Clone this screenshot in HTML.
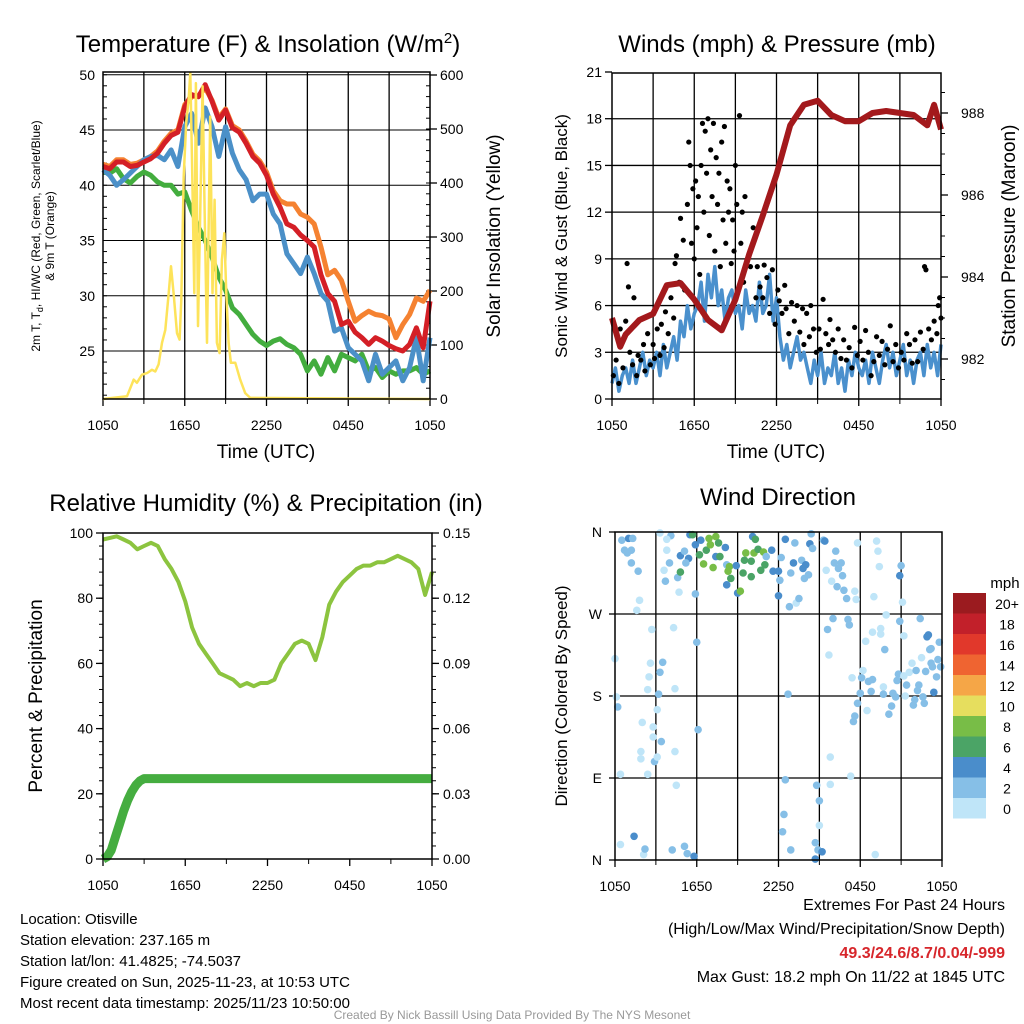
<!DOCTYPE html>
<html><head><meta charset="utf-8">
<style>
html,body{margin:0;padding:0;background:#fff;}
svg{display:block;font-family:"Liberation Sans",sans-serif;}
</style></head>
<body>
<svg id="c" width="1024" height="1024" viewBox="0 0 1024 1024" xmlns="http://www.w3.org/2000/svg">
<rect width="1024" height="1024" fill="#fff"/>
<g id="p1"></g>
<g id="p2"></g>
<g id="p3"></g>
<g id="p4"></g>
<text x="268" y="52" font-size="24" text-anchor="middle">Temperature (F) &amp; Insolation (W/m<tspan dy="-9" font-size="15">2</tspan><tspan dy="9">)</tspan></text>
<text x="777" y="52" font-size="24" text-anchor="middle">Winds (mph) &amp; Pressure (mb)</text>
<text x="266" y="511" font-size="24" text-anchor="middle">Relative Humidity (%) &amp; Precipitation (in)</text>
<text x="778" y="505" font-size="24" text-anchor="middle">Wind Direction</text>
<text x="266" y="458" font-size="19" text-anchor="middle">Time (UTC)</text>
<text x="776" y="458" font-size="19" text-anchor="middle">Time (UTC)</text>
<text transform="translate(40,236) rotate(-90)" font-size="12" text-anchor="middle">2m T, T<tspan dy="3" font-size="9">d</tspan><tspan dy="-3">, HI/WC (Red, Green, Scarlet/Blue)</tspan></text>
<text transform="translate(54,236) rotate(-90)" font-size="12" text-anchor="middle">&amp; 9m T (Orange)</text>
<text transform="translate(500,236) rotate(-90)" font-size="19" text-anchor="middle">Solar Insolation (Yellow)</text>
<text transform="translate(567,236) rotate(-90)" font-size="17" text-anchor="middle">Sonic Wind &amp; Gust (Blue, Black)</text>
<text transform="translate(1015,236) rotate(-90)" font-size="19" text-anchor="middle">Station Pressure (Maroon)</text>
<text transform="translate(42,696) rotate(-90)" font-size="19" text-anchor="middle">Percent &amp; Precipitation</text>
<text transform="translate(567,696) rotate(-90)" font-size="17" text-anchor="middle">Direction (Colored By Speed)</text>
<text x="1005" y="588" font-size="15" text-anchor="middle">mph</text>
<g id="cbar"></g>
<g font-size="15">
<text x="20" y="924">Location: Otisville</text>
<text x="20" y="945">Station elevation: 237.165 m</text>
<text x="20" y="966">Station lat/lon: 41.4825; -74.5037</text>
<text x="20" y="987">Figure created on Sun, 2025-11-23, at 10:53 UTC</text>
<text x="20" y="1008">Most recent data timestamp: 2025/11/23 10:50:00</text>
</g>
<g font-size="16" text-anchor="end">
<text x="1005" y="910">Extremes For Past 24 Hours</text>
<text x="1005" y="934">(High/Low/Max Wind/Precipitation/Snow Depth)</text>
<text x="1005" y="958" fill="#d7262b" font-weight="bold">49.3/24.6/8.7/0.04/-999</text>
<text x="1005" y="982">Max Gust: 18.2 mph On 11/22 at 1845 UTC</text>
</g>
<text x="512" y="1019" font-size="12" fill="#999" text-anchor="middle">Created By Nick Bassill Using Data Provided By The NYS Mesonet</text>
</svg>
<script>
const xTickLabels = ["1050","1650","2250","0450","1050"];
// Temperature panel (half-hourly, hours 0..24)
const tRed = [41.7,41.5,42.1,42.1,41.7,41.8,42.1,42.4,42.9,43.8,44.5,44.8,47.1,48.2,48,49.1,47.6,45.9,46.8,45.2,44.8,43.8,42.6,42,40.9,39.2,38,36.5,36.2,35.5,35,34.4,31.9,30.2,29.5,27.4,27.7,26.7,26.2,25.6,26.2,25.9,25.5,25.2,25,25.6,27.1,25.3,29.5];
const tOrange = [41.9,41.7,42.3,42.3,41.9,42,42.3,42.6,43.1,44,44.7,45,47.3,48,48.1,48.8,47.7,46.1,46.9,45.4,45,44,42.8,42.2,41.2,39.5,38.6,38.3,38.3,37.4,37.1,36.5,34.4,31.9,32.3,31.4,29.5,27.7,28.2,28.6,28.3,28.2,27.9,26.2,27.4,28.3,29.8,29.5,30.5];
const tBlue = [41.4,40.9,40,40.5,41.1,41.7,42.3,42.6,42.7,42.3,43.2,41.7,45.3,46.5,43.8,47,45.3,42.6,45.3,42.9,41.4,40.5,38.6,39.2,39.2,37.4,36.5,33.8,32.9,32,33.5,32,30.2,29.5,26.8,27.1,25.3,24.7,24.1,22.3,24.7,22.9,23.5,24.1,22.3,23.5,26.2,22.3,26.2];
const tGreen = [41.2,41.1,41.5,40.6,40.2,40.8,41.2,40.9,40.3,40,40,39.2,39.4,37.7,36.2,35,33.5,31.7,30.5,28.9,28.3,27.4,26.5,25.9,25.5,25.9,26.1,25.6,25.3,24.7,23.2,24.1,22.9,24.4,23.2,24.7,24.4,24.1,24.7,23.2,23.5,22.6,23.2,22.9,23.2,23.2,23.5,22.9,23.2];
const solarHours = [0,1.76,2.25,2.49,2.86,3.23,3.59,3.84,4.08,4.33,4.57,4.82,4.99,5.18,5.43,5.62,5.75,5.92,6.11,6.28,6.41,6.53,6.7,6.82,6.97,7.14,7.31,7.46,7.63,7.87,8.04,8.19,8.36,8.56,8.73,8.9,9.05,9.22,9.39,9.71,10.07,10.44,10.81,24];
const solarVals = [0,5,36,30,45,48,54,51,64,104,128,196,246,196,122,110,184,412,511,554,604,443,196,585,135,351,579,351,104,523,196,369,104,85,258,307,196,104,67,67,36,11,2,0];
const tempTicks = [25,30,35,40,45,50];
const solarTicks = [0,100,200,300,400,500,600];
// Winds panel
const windVals = [1,2,0.5,1.5,2,1,2.5,1,2, 3,1.5,2.5,2,3,1.5,3.5,2, 3,4,2.5,5,4,6,4.5,5.5, 6,7.5,5,8,6.5,8.5,6,7, 5,6.5,7,5.5,6,4.5,7,5.5, 6,5,7.5,5.5,6,8,5,6.5, 4,2.5,3.5,2,3,4,2.5,3, 2,1,2.5,1.5,3,1,2,1.5, 3,1,2,0.5,2.5,1.5,3,2, 1.5,2.5,1,3,2,1,2.5,3.5, 2,3,1.5,2.5,3.5,1.5,2.5,1, 2.5,3,1.5,3.5,2,3,1.5,3.5];
const gustHours = [0.1,0.3,0.5,0.6,0.8,1.0,1.1,1.2,1.3,1.5,1.6,1.8,1.9,2.1,2.3,2.4,2.6,2.8,3.0,3.1,3.3,3.5,3.6,3.8,3.9,4.1,4.3,4.5,4.6,4.7,4.9,5.0,5.2,5.3,5.5,5.6,5.7,5.8,5.9,6.0,6.1,6.2,6.3,6.4,6.5,6.6,6.7,6.8,6.9,7.0,7.1,7.2,7.3,7.4,7.5,7.6,7.7,7.8,7.9,8.0,8.1,8.2,8.3,8.4,8.5,8.6,8.7,8.8,8.9,9.0,9.1,9.3,9.4,9.5,9.6,9.7,9.9,10.1,10.3,10.5,10.6,10.8,11.0,11.1,11.3,11.5,11.7,11.9,12.1,12.2,12.4,12.6,12.7,12.9,13.1,13.3,13.5,13.7,13.9,14.0,14.2,14.4,14.5,14.7,14.9,15.1,15.2,15.4,15.6,15.8,15.9,16.1,16.3,16.5,16.7,16.9,17.1,17.3,17.5,17.7,17.9,18.1,18.3,18.5,18.7,18.9,19.1,19.3,19.5,19.7,19.9,20.1,20.3,20.5,20.7,20.9,21.1,21.3,21.5,21.7,21.9,22.1,22.3,22.5,22.7,22.8,22.9,23.1,23.3,23.5,23.7,23.8,23.9,24.0];
const gustVals = [1.5,2.5,1,4.5,2,5,8.7,7.2,3,2.2,6.5,1.5,2.8,2.5,3.5,1.8,4.2,2.2,3.5,2.6,4.5,2.8,4.8,3.3,5.6,4.2,6.5,5.2,8.7,9.2,7.5,11.6,10.2,7,12.5,16.5,15,10,13.5,9,14,11,13,8,15,17.7,12,17.2,14.5,18,10.5,16,13,17.7,9.5,15.5,12.5,14.5,8.5,16.5,11.5,17.5,10,14,12,13.5,8.7,11.5,9.5,15,12.5,18.2,10,12,7.5,13,9,8.5,11,6.5,8.5,7.2,6.5,8.6,7.8,5.5,8.3,4.8,7,6.3,5.5,7.3,5.8,4.2,6.2,5,6,4.3,5.8,3.5,5.5,4,6,4.5,3,4.5,3.2,6.4,4.2,3.5,5.1,3.8,3,4.5,2.6,3.8,2.5,3.3,2,4.6,2.8,3.7,2.5,4.4,3,1.5,2.4,4,2.8,3.7,2.2,3.2,4.7,2.4,3.5,2,3,2.5,4.2,3.5,2.3,3.8,2.4,4.3,3.2,8.5,8.3,4.5,3.8,5,4.2,6,6.5,5.2];
const presHours = [0,0.6,1,2,3,4,5,6,7,8,9,10,11,12,13,14,15,16,17,18,19,20,21,22,23,23.5,24];
const presVals = [983.0,982.3,982.6,982.95,983.1,983.8,983.85,983.45,982.95,982.7,983.45,984.55,985.5,986.5,987.7,988.2,988.3,987.95,987.8,987.8,988.0,988.05,988.0,987.95,987.7,988.2,987.6];
const windTicks = [0,3,6,9,12,15,18,21];
const presTicks = [982,984,986,988];
// Humidity panel
const rhVals = [98,98.5,99,98,97,95,96,97,96,92,89,85,79,71,66,63,60,57,56,55,53,54,53,54,54,55,60,63,66,67,66,61,68,78,82,85,87,89,90,90,91,91,92,93,92,91,89,81,88];
const precipHours = [0,0.3,0.6,0.9,1.2,1.5,1.8,2.1,2.4,2.7,3.0,3.3,24];
const precipVals = [0,0.001,0.004,0.01,0.016,0.022,0.027,0.031,0.034,0.036,0.037,0.037,0.037];
const rhTicks = [0,20,40,60,80,100];
const precipTicks = ["0.00","0.03","0.06","0.09","0.12","0.15"];
// Wind direction panel
const dirHours = [0.5,1.0,1.3,0.7,0.9,1.2,1.2,1.7,1.8,1.6,3.3,4.1,3.8,3.8,3.6,3.7,4.0,4.7,4.6,4.8,4.8,5.1,5.4,5.2,5.5,5.7,5.9,5.9,6.2,6.3,6.7,6.9,7.0,7.4,7.6,7.2,6.5,7.4,7.7,8.1,8.2,8.4,8.3,8.2,8.5,8.9,9.0,9.2,9.4,9.5,9.6,10.0,10.0,10.1,10.3,10.2,10.5,10.9,10.7,11.0,11.1,11.5,11.6,12.0,12.0,12.2,12.1,12.5,12.8,12.9,13.1,13.2,13.3,13.5,13.7,13.8,14.0,13.9,14.2,14.4,14.3,14.5,15.3,15.4,15.5,15.9,16.2,16.1,16.3,16.4,16.6,16.7,16.8,17.0,17.6,17.7,17.8,19.0,19.2,19.3,19.4,21.0,20.9,21.1,
0.0,0.1,0.2,0.4,0.4,1.4,2.0,1.9,1.9,2.1,2.2,2.4,2.4,2.5,2.6,2.7,2.8,2.8,2.9,3.1,3.1,3.2,3.3,3.5,3.4,4.2,4.3,4.4,4.4,4.5,5.1,5.3,5.8,6.0,6.1,12.7,12.5,12.4,12.3,12.9,14.7,14.8,14.9,15.0,15.0,15.2,14.7,15.7,15.8,15.8,15.6,16.0,17.1,17.2,17.3,17.4,17.5,17.6,17.8,18.0,18.1,18.2,18.4,18.5,18.6,18.8,18.9,18.9,19.1,19.5,19.5,19.7,19.7,19.8,19.9,20.1,20.3,20.4,20.6,20.7,20.8,20.9,21.2,21.2,21.3,21.4,21.6,21.8,21.9,22.0,22.1,22.2,22.3,22.4,22.5,22.6,22.7,22.8,22.9,23.0,23.1,23.2,23.2,23.3,23.4,23.6,23.7,23.8,23.9];
const dirDegrees = [351,353,353,340,337,340,326,317,285,274,359,356,352,340,318,306,326,294,310,316,334,339,331,326,357,357,346,292,335,351,340,353,346,355,348,321,325,333,333,343,324,322,317,302,309,323,293,295,315,329,337,328,311,355,352,337,341,338,318,324,333,340,317,317,290,332,307,352,278,315,326,348,282,287,329,320,324,309,313,358,347,342,351,350,318,306,339,326,300,320,326,312,296,287,295,286,348,289,350,339,322,323,312,283,
221,179,168,94,17,26,151,119,111,6,12,94,187,201,216,253,146,135,108,113,165,182,206,217,130,11,255,188,119,82,15,7,4,239,143,182,88,50,31,11,19,82,11,65,38,9,1,225,113,83,253,265,264,258,92,200,152,158,172,183,200,208,240,164,196,185,198,250,6,254,248,190,182,231,269,160,169,183,179,197,204,262,246,202,180,192,206,216,170,176,208,186,192,265,222,179,172,207,245,247,231,232,216,212,184,201,220,239,212];
const dirSpeeds = [3,5,3,3,3,3,3,3,1,1,1,3,1,1,1,3,3,1,3,7,5,3,5,3,5,7,5,3,7,5,7,9,9,9,7,9,9,5,7,5,3,9,9,5,7,5,5,9,7,7,9,7,7,5,7,9,7,9,7,7,3,5,5,5,5,3,3,5,3,3,5,3,1,3,3,5,5,3,3,3,5,3,3,5,1,1,3,3,3,3,3,3,3,3,1,1,1,1,1,1,1,3,5,1,
1,1,3,1,1,5,1,1,1,1,3,1,1,1,1,1,1,1,3,1,1,3,3,3,3,3,1,1,1,1,3,3,5,3,3,3,3,3,3,3,3,3,3,3,1,5,5,1,1,1,3,3,3,3,1,1,3,3,3,3,3,1,1,1,3,3,3,1,1,1,1,1,3,3,1,3,3,3,3,3,3,3,1,1,1,3,1,1,3,3,3,3,3,3,1,3,3,3,5,5,3,3,3,3,5,3,3,3,3];
const dirTicks = ["N","E","S","W","N"];
const speedColors = ["#bfe5f8","#86bfe7","#4a8dcb","#4ba466","#78bd47","#e6de5e","#f5a647","#ef6431","#e1382b","#c2202a","#9b1b1f"];
const speedLabels = ["0","2","4","6","8","10","12","14","16","18","20+"];

const NS="http://www.w3.org/2000/svg";
function mk(parent,tag,attrs){const e=document.createElementNS(NS,tag);for(const k in attrs)e.setAttribute(k,attrs[k]);parent.appendChild(e);return e;}
function axisX(x0,x1){return h=>x0+(x1-x0)*h/24;}
function lin(d0,d1,r0,r1){return v=>r0+(v-d0)*(r1-r0)/(d1-d0);}
function pathFrom(xs,ys,sx,sy){return xs.map((h,i)=>(i?'L':'M')+sx(h).toFixed(1)+' '+sy(ys[i]).toFixed(1)).join('');}
const halfHours = tRed.map((_,i)=>i*0.5);
const quarterHours = windVals.map((_,i)=>i*0.25);

function frame(g,x0,y0,x1,y1,grid,vgrid){
  if(vgrid){for(let k=1;k<8;k++){const x=x0+(x1-x0)*k/8;const l=mk(g,'line',{x1:x,y1:y0,x2:x,y2:y1,stroke:'#000','stroke-width':1.3});

}}
  xTickLabels.forEach((t,i)=>{const x=x0+(x1-x0)*i/4;const tx=mk(g,'text',{x:x,y:y1+31,'font-size':14,'text-anchor':'middle'});tx.textContent=t;


mk(g,'line',{x1:x,y1:y1,x2:x,y2:y1+7,stroke:'#000','stroke-width':1.3});});
  for(let k=1;k<8;k+=2){const x=x0+(x1-x0)*k/8;mk(g,'line',{x1:x,y1:y1,x2:x,y2:y1+5,stroke:'#000','stroke-width':1});}
}
function border(g,x0,y0,x1,y1){const r=mk(g,'rect',{x:x0,y:y0,width:x1-x0,height:y1-y0,fill:'none',stroke:'#000','stroke-width':1.5});

}

// ---- Panel 1
(function(){
 const g=document.getElementById('p1');const x0=103,x1=430,y0=72,y1=399;
 const sx=axisX(x0,x1), sy=lin(25,45,351,130), sr=lin(0,600,399,75);
 frame(g,x0,y0,x1,y1,true,true);
 tempTicks.forEach(v=>{const y=sy(v);mk(g,'line',{x1:x0,y1:y,x2:x1,y2:y,stroke:'#000','stroke-width':1.1});
  const t=mk(g,'text',{x:x0-8,y:y+5,'font-size':14,'text-anchor':'end'});t.textContent=v;

});
 for(let v=21;v<=50;v++){const y=sy(v);mk(g,'line',{x1:x0,y1:y,x2:x0+4,y2:y,stroke:'#000','stroke-width':1});}
 solarTicks.forEach(v=>{const y=sr(v);mk(g,'line',{x1:x1,y1:y,x2:x1+7,y2:y,stroke:'#000','stroke-width':1.3});
  const t=mk(g,'text',{x:x1+10,y:y+5,'font-size':14});t.textContent=v;

});
 for(let v=20;v<600;v+=20){const y=sr(v);mk(g,'line',{x1:x1-4,y1:y,x2:x1,y2:y,stroke:'#000','stroke-width':1});}
 const s1=mk(g,'path',{d:pathFrom(halfHours,tOrange,sx,sy),fill:'none',stroke:'#f58231','stroke-width':5,'stroke-linejoin':'round'});
 
 
 const s2=mk(g,'path',{d:pathFrom(halfHours,tGreen,sx,sy),fill:'none',stroke:'#43ad3e','stroke-width':5,'stroke-linejoin':'round'});
 
 
 const s3=mk(g,'path',{d:pathFrom(halfHours,tBlue,sx,sy),fill:'none',stroke:'#4b90c8','stroke-width':5,'stroke-linejoin':'round'});
 
 
 const s4=mk(g,'path',{d:pathFrom(halfHours,tRed,sx,sy),fill:'none',stroke:'#d41f26','stroke-width':5,'stroke-linejoin':'round'});
 
 
 const s5=mk(g,'path',{d:pathFrom(solarHours,solarVals,sx,sr),fill:'none',stroke:'#fde35a','stroke-width':2.5,'stroke-linejoin':'round'});
 
 
 border(g,x0,y0,x1,y1);
})();

// ---- Panel 2
(function(){
 const g=document.getElementById('p2');const x0=612,x1=941,y0=73,y1=399;
 const sx=axisX(x0,x1), sy=lin(0,21,399,72), sp=lin(982,988,359,113);
 frame(g,x0,y0,x1,y1,true,true);
 windTicks.forEach(v=>{const y=sy(v);if(v>0&&v<21)mk(g,'line',{x1:x0,y1:y,x2:x1,y2:y,stroke:'#000','stroke-width':1.3});
  mk(g,'line',{x1:x0-7,y1:y,x2:x0,y2:y,stroke:'#000','stroke-width':1.3});
  const t=mk(g,'text',{x:x0-10,y:y+5,'font-size':14,'text-anchor':'end'});t.textContent=v;

});
 presTicks.forEach(v=>{const y=sp(v);mk(g,'line',{x1:x1,y1:y,x2:x1+7,y2:y,stroke:'#000','stroke-width':1.3});
  const t=mk(g,'text',{x:x1+20,y:y+5,'font-size':14});t.textContent=v;

});
 for(let v=981.5;v<989;v+=0.5){const y=sp(v);if(y>y0&&y<y1)mk(g,'line',{x1:x1,y1:y,x2:x1+4,y2:y,stroke:'#000','stroke-width':1});}
 const w=mk(g,'path',{d:pathFrom(quarterHours,windVals,sx,sy),fill:'none',stroke:'#4a90cd','stroke-width':3.5,'stroke-linejoin':'round'});
 
 
 gustHours.forEach((h,i)=>{const c=mk(g,'circle',{cx:sx(h),cy:sy(gustVals[i]),r:2.6,fill:'#000'});

});
 const p=mk(g,'path',{d:pathFrom(presHours,presVals,sx,sp),fill:'none',stroke:'#a3191c','stroke-width':6,'stroke-linejoin':'round'});
 
 
 border(g,x0,y0,x1,y1);
})();

// ---- Panel 3
(function(){
 const g=document.getElementById('p3');const x0=103,x1=432,y0=533,y1=859;
 const sx=axisX(x0,x1), sy=lin(0,100,859,533), sq=lin(0,0.15,859,533);
 frame(g,x0,y0,x1,y1,false,false);
 rhTicks.forEach((v,i)=>{const y=sy(v);mk(g,'line',{x1:x0-7,y1:y,x2:x0,y2:y,stroke:'#000','stroke-width':1.3});
  mk(g,'line',{x1:x1,y1:y,x2:x1+7,y2:y,stroke:'#000','stroke-width':1.3});
  const t=mk(g,'text',{x:x0-10,y:y+5,'font-size':14,'text-anchor':'end'});t.textContent=v;


  const t2=mk(g,'text',{x:x1+11,y:y+5,'font-size':14});t2.textContent=precipTicks[i];

});
 for(let v=4;v<100;v+=4){const y=sy(v);mk(g,'line',{x1:x0-4,y1:y,x2:x0,y2:y,stroke:'#000','stroke-width':1});mk(g,'line',{x1:x1,y1:y,x2:x1+4,y2:y,stroke:'#000','stroke-width':1});}
 const r=mk(g,'path',{d:pathFrom(halfHours,rhVals,sx,sy),fill:'none',stroke:'#8cc43f','stroke-width':4,'stroke-linejoin':'round'});
 
 
 const q=mk(g,'path',{d:pathFrom(precipHours,precipVals,sx,sq),fill:'none',stroke:'#45ad40','stroke-width':9,'stroke-linejoin':'round'});
 
 
 border(g,x0,y0,x1,y1);
})();

// ---- Panel 4
(function(){
 const g=document.getElementById('p4');const x0=615,x1=942,y0=532,y1=860;
 const sx=axisX(x0,x1), sy=lin(0,360,y1,y0);
 frame(g,x0,y0,x1,y1,true,true);
 dirTicks.forEach((t,i)=>{const y=sy(i*90);if(i>0&&i<4)mk(g,'line',{x1:x0,y1:y,x2:x1,y2:y,stroke:'#000','stroke-width':1.3});
  mk(g,'line',{x1:x0-6,y1:y,x2:x0,y2:y,stroke:'#000','stroke-width':1.3});
  const tx=mk(g,'text',{x:x0-13,y:y+5,'font-size':14,'text-anchor':'end'});tx.textContent=t;

});
 dirHours.forEach((h,i)=>{const ci=Math.min(10,Math.floor(dirSpeeds[i]/2));
  const c=mk(g,'circle',{cx:sx(h),cy:sy(dirDegrees[i]),r:3.8,fill:speedColors[ci]});

});
 border(g,x0,y0,x1,y1);
 const cb=document.getElementById('cbar');
 speedColors.forEach((col,i)=>{const y=798-i*20.5;mk(cb,'rect',{x:953,y:y,width:33,height:20.5,fill:col});
  const t=mk(cb,'text',{x:1007,y:y+16,'font-size':14,'text-anchor':'middle'});t.textContent=speedLabels[i];

});
})();
</script>
</body></html>
